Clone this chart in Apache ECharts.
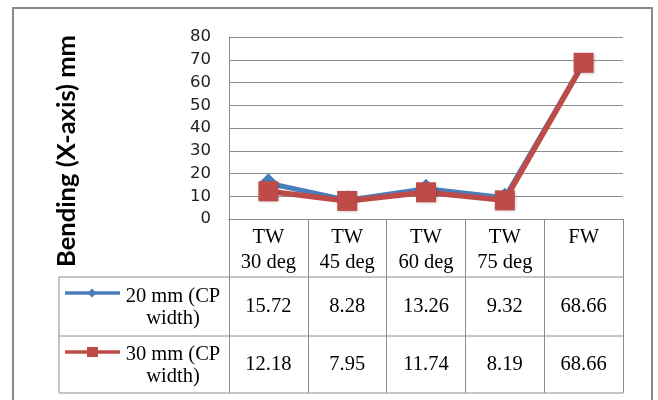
<!DOCTYPE html>
<html>
<head>
<meta charset="utf-8">
<script src="https://cdn.jsdelivr.net/npm/echarts@6/dist/echarts.min.js"></script>
<style>
  html, body { margin: 0; padding: 0; background: #fff; }
  #chart { width: 658px; height: 400px; }
</style>
</head>
<body>
<div id="chart"></div>
<script>
// Categories (joint type / angle) and bending values per CP width
const categories = ['TW\n30 deg', 'TW\n45 deg', 'TW\n60 deg', 'TW\n75 deg', 'FW'];
const cp20 = [15.72, 8.28, 13.26, 9.32, 68.66];
const cp30 = [12.18, 7.95, 11.74, 8.19, 68.66];
const seriesNames = ['20 mm (CP\nwidth)', '30 mm (CP\nwidth)'];
const seriesColors = ['#4A7EBB', '#BE4B48'];
const yTicks = { min: 0, max: 80, step: 10 };
const yTitle = 'Bending (X-axis) mm';

const gridColor = '#8c8c8c';
const serif = '"Liberation Serif", "Times New Roman", serif';
const tableFont = 20.5;

const chart = echarts.init(document.getElementById('chart'), null, { renderer: 'canvas' });

const GRID = { left: 229, top: 37, width: 394, height: 182 };
const ROW1_TOP = 277, ROW2_TOP = 336, TABLE_BOTTOM = 393, TABLE_LEFT = 59;

chart.setOption({
  animation: false,
  backgroundColor: '#fff',
  grid: GRID,
  xAxis: {
    type: 'category',
    data: categories,
    boundaryGap: true,
    axisLine: { show: true, lineStyle: { color: gridColor, width: 1 } },
    axisTick: { show: true, length: TABLE_BOTTOM - (GRID.top + GRID.height), lineStyle: { color: gridColor, width: 1 } },
    axisLabel: {
      interval: 0,
      margin: 6,
      fontFamily: serif,
      fontSize: tableFont,
      lineHeight: 25,
      color: '#000'
    },
    splitLine: { show: false }
  },
  yAxis: {
    type: 'value',
    min: yTicks.min,
    max: yTicks.max,
    interval: yTicks.step,
    axisLine: { show: true, lineStyle: { color: gridColor, width: 1 } },
    axisTick: { show: false },
    axisLabel: { margin: 18, fontFamily: '"DejaVu Sans", sans-serif', fontSize: 16.5, color: '#222' },
    splitLine: { show: true, lineStyle: { color: gridColor, width: 1 } }
  },
  series: [
    {
      name: seriesNames[0],
      type: 'line',
      data: cp20,
      symbol: 'diamond',
      symbolSize: 20,
      lineStyle: { color: seriesColors[0], width: 5 },
      itemStyle: { color: seriesColors[0] },
      z: 2
    },
    {
      name: seriesNames[1],
      type: 'line',
      data: cp30,
      symbol: 'rect',
      symbolSize: 20,
      lineStyle: { color: seriesColors[1], width: 5.5 },
      itemStyle: { color: seriesColors[1], shadowColor: 'rgba(0,0,0,0.25)', shadowBlur: 3, shadowOffsetX: 1, shadowOffsetY: 1 },
      z: 3
    }
  ]
});

// Data table below the plot, aligned to the category axis
function buildTable() {
  const band = chart.convertToPixel({ xAxisIndex: 0 }, categories[1]) - chart.convertToPixel({ xAxisIndex: 0 }, categories[0]);
  const rightEdge = chart.convertToPixel({ xAxisIndex: 0 }, categories[categories.length - 1]) + band / 2;
  const els = [];
  const line = (x1, y1, x2, y2) => ({
    type: 'line', shape: { x1, y1, x2, y2 }, style: { stroke: gridColor, lineWidth: 1 }, silent: true
  });

  // outer frame
  els.push({ type: 'rect', shape: { x: 13, y: 8, width: 639, height: 420 }, style: { fill: null, stroke: '#8a8a8a', lineWidth: 2 }, silent: true });

  // table grid lines
  [ROW1_TOP, ROW2_TOP, TABLE_BOTTOM].forEach(y => els.push(line(TABLE_LEFT, y, rightEdge, y)));
  els.push(line(TABLE_LEFT, ROW1_TOP, TABLE_LEFT, TABLE_BOTTOM));

  const rows = [
    { vals: cp20, top: ROW1_TOP, bottom: ROW2_TOP, symbol: 'diamond' },
    { vals: cp30, top: ROW2_TOP, bottom: TABLE_BOTTOM, symbol: 'rect' }
  ];
  rows.forEach((r, k) => {
    const cy = (r.top + r.bottom) / 2;
    r.vals.forEach((v, i) => {
      const cx = chart.convertToPixel({ xAxisIndex: 0 }, categories[i]);
      els.push({
        type: 'text', x: cx, y: cy, silent: true,
        style: { text: v.toFixed(2), fontFamily: serif, fontSize: tableFont, fill: '#000', align: 'center', verticalAlign: 'middle' }
      });
    });
    // legend key
    const ky = r.top + 16;
    els.push({ type: 'line', shape: { x1: 65, y1: ky, x2: 120, y2: ky }, style: { stroke: seriesColors[k], lineWidth: 3.5 }, silent: true });
    if (r.symbol === 'rect') {
      els.push({ type: 'rect', shape: { x: 87, y: ky - 5, width: 11, height: 10 }, style: { fill: seriesColors[k] }, silent: true });
    } else {
      els.push({ type: 'polygon', shape: { points: [[92, ky - 4.5], [96.5, ky], [92, ky + 4.5], [87.5, ky]] }, style: { fill: seriesColors[k] }, silent: true });
    }
    els.push({
      type: 'text', x: 173, y: cy + 1, silent: true,
      style: { text: seriesNames[k], fontFamily: serif, fontSize: tableFont, lineHeight: 22, fill: '#000', align: 'center', verticalAlign: 'middle' }
    });
  });

  // y-axis title
  els.push({
    type: 'text', x: 67, y: 151, rotation: Math.PI / 2, silent: true,
    style: { text: yTitle, fontFamily: 'Lato, "Open Sans", sans-serif', fontWeight: 'bold', fontSize: 25.5, fill: '#000', align: 'center', verticalAlign: 'middle' }
  });

  chart.setOption({ graphic: els });
}
buildTable();
</script>
</body>
</html>
